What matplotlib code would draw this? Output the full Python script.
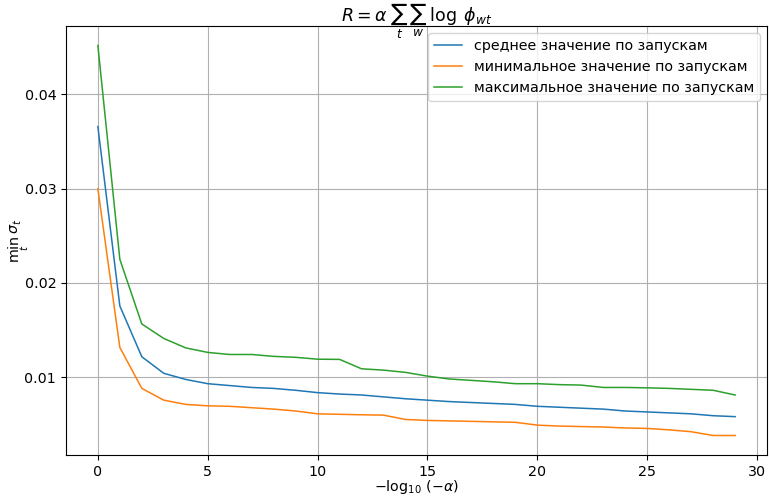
import matplotlib
matplotlib.use("Agg")
import matplotlib.pyplot as plt
import numpy as np

x = list(range(30))
mean_vals = [0.0366, 0.01755, 0.01216, 0.0104, 0.00975, 0.0093, 0.0091, 0.0089, 0.0088, 0.0086,
             0.00835, 0.0082, 0.0081, 0.0079, 0.0077, 0.00755, 0.0074, 0.0073, 0.0072, 0.0071,
             0.0069, 0.0068, 0.0067, 0.0066, 0.0064, 0.0063, 0.0062, 0.0061, 0.0059, 0.0058]
min_vals = [0.0300, 0.01315, 0.0088, 0.00755, 0.0071, 0.00695, 0.0069, 0.00675, 0.0066, 0.0064,
            0.0061, 0.00605, 0.0060, 0.00596, 0.0055, 0.0054, 0.00535, 0.0053, 0.00525, 0.0052,
            0.0049, 0.0048, 0.00475, 0.0047, 0.0046, 0.00455, 0.0044, 0.0042, 0.0038, 0.0038]
max_vals = [0.0452, 0.0225, 0.01564, 0.0141, 0.0131, 0.01262, 0.0124, 0.0124, 0.0122, 0.0121,
            0.0119, 0.01188, 0.01088, 0.01074, 0.0105, 0.0101, 0.0098, 0.00965, 0.0095, 0.0093,
            0.0093, 0.0092, 0.00915, 0.0089, 0.0089, 0.00886, 0.0088, 0.0087, 0.0086, 0.0081]

labels = ["среднее значение по запускам",
          "минимальное значение по запускам",
          "максимальное значение по запускам"]

plt.rcParams['font.size'] = 10.3
fig = plt.figure(figsize=(7.69, 4.97), dpi=100)
ax = fig.add_axes([66/769, 42/497, 701/769, 429/497])
ax.plot(x, mean_vals, color='#1f77b4', lw=1.1, label=labels[0])
ax.plot(x, min_vals, color='#ff7f0e', lw=1.1, label=labels[1])
ax.plot(x, max_vals, color='#2ca02c', lw=1.1, label=labels[2])
ax.grid(True)
ax.set_xlabel(r'$-\log_{10}\,(-\alpha)$', fontsize=10.3)
ax.xaxis.set_label_coords(0.5, -0.053)
ax.set_ylabel(r'$\min_t\,\sigma_t$', fontsize=10.3)
ax.yaxis.set_label_coords(-0.05, 0.5)
ax.annotate(r'$R = \alpha\;\sum_t\,\sum_w\;\log\;\phi_{wt}$', xy=(0.5, 1.0), xycoords='axes fraction',
            xytext=(0, 3), textcoords='offset points', ha='center', va='baseline', fontsize=12.5)
ax.set_yticks([0.01, 0.02, 0.03, 0.04])
ax.legend(loc='upper right', fontsize=10.3)
fig.savefig("out.png", dpi=100)
